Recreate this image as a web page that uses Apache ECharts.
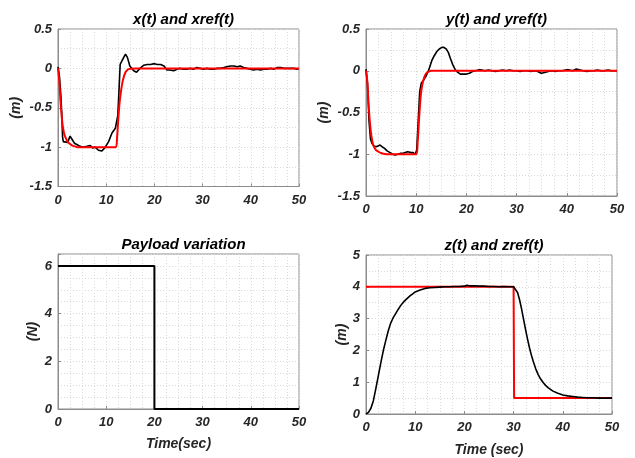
<!DOCTYPE html>
<html>
<head>
<meta charset="utf-8">
<script src="https://cdn.jsdelivr.net/npm/echarts@6/dist/echarts.min.js"></script>
<style>html,body{margin:0;padding:0;background:#fff}#c{width:635px;height:458px}</style>
</head>
<body>
<div id="c"></div>
<script>
// ---- data ----
const titles = ['x(t) and xref(t)', 'y(t) and yref(t)', 'Payload variation', 'z(t) and zref(t)'];
const xTicks = [0, 10, 20, 30, 40, 50];

const xT = [0,0.3,0.6,0.8,0.95,1.1,1.5,2.0,2.5,2.9,3.4,4.0,4.6,5.2,6.0,6.7,7.2,7.7,8.4,9.1,9.7,10.5,11.2,11.9,12.2,12.4,12.6,12.9,13.3,13.7,14.0,14.4,14.9,15.7,16.3,17.0,17.8,18.5,19.2,20.0,20.6,21.3,22.0,22.6,23.2,24.0,24.7,25.3,26.0,26.7,27.4,28.1,28.8,29.5,30.2,30.9,31.6,32.3,33.0,33.7,34.4,35.0,35.8,36.5,37.2,37.8,38.5,39.2,39.9,40.6,41.3,42.0,42.7,43.4,44.1,44.8,45.5,46.2,46.9,47.6,48.3,49.0,49.6,50];
const xVal = [0.02,-0.1,-0.35,-0.6,-0.87,-0.93,-0.95,-0.94,-0.86,-0.9,-0.95,-0.97,-0.99,-1.0,-0.99,-0.98,-1.01,-1.0,-1.04,-1.05,-1.01,-0.93,-0.82,-0.76,-0.74,-0.6,-0.35,0.05,0.1,0.12,0.18,0.14,0.03,-0.03,-0.05,0.0,0.04,0.05,0.05,0.06,0.05,0.05,0.03,-0.02,-0.02,-0.03,-0.01,0.0,-0.01,-0.01,0.0,-0.01,0.01,0.0,-0.01,0.0,-0.01,-0.01,0.0,0.0,0.01,0.02,0.03,0.03,0.02,0.03,0.01,0.0,-0.01,-0.02,-0.01,-0.02,-0.01,-0.01,0.0,-0.01,0.01,0.01,0.0,0.0,0.0,0.0,-0.01,0.0];
const xrefT = [0,0.25,0.5,0.75,1,1.25,1.5,2,2.5,3,3.5,4,12,12.25,12.5,12.75,13,13.25,13.5,14,14.5,15,16,50];
const xrefVal = [0,-0.15,-0.4,-0.6,-0.74,-0.82,-0.87,-0.93,-0.96,-0.98,-0.99,-1,-1,-0.88,-0.65,-0.45,-0.32,-0.22,-0.14,-0.05,-0.015,-0.005,0,0];

const yT = [0,0.3,0.6,0.9,1.2,1.6,2.0,2.4,2.8,3.2,3.7,4.2,4.8,5.3,5.8,6.3,6.8,7.3,7.8,8.3,8.6,9.0,9.4,9.8,10.1,10.4,10.7,11.0,11.5,12.0,12.5,13.1,13.6,14.1,14.6,15.1,15.5,16.0,16.4,16.8,17.3,17.8,18.3,18.8,19.4,20.0,20.6,21.2,21.8,22.4,23.0,23.7,24.4,25.1,25.8,26.5,27.2,27.9,28.6,29.3,30.0,30.7,31.4,32.1,32.8,33.5,34.2,34.9,35.6,36.3,37.0,37.7,38.4,39.1,39.8,40.5,41.2,41.9,42.6,43.3,44.0,44.7,45.4,46.1,46.8,47.5,48.2,48.9,49.5,50];
const yVal = [0.02,-0.15,-0.6,-0.82,-0.87,-0.9,-0.91,-0.9,-0.89,-0.91,-0.93,-0.96,-0.98,-1.0,-1.01,-1.0,-0.99,-0.99,-0.98,-0.97,-0.95,-0.98,-0.98,-1.0,-0.95,-0.6,-0.25,-0.15,-0.11,-0.06,0.01,0.12,0.18,0.23,0.26,0.28,0.28,0.26,0.22,0.15,0.07,0.01,-0.02,-0.04,-0.04,-0.04,-0.03,-0.01,0.0,0.01,0.01,0.0,0.01,0.0,-0.01,0.0,0.01,0.0,0.01,0.0,0.0,-0.01,0.0,0.0,-0.01,0.0,-0.01,-0.03,-0.02,-0.01,0.0,-0.01,0.0,0.0,0.01,0.01,0.0,0.02,0.01,0.0,-0.01,0.0,0.0,0.01,0.0,0.0,0.01,0.0,0.0,0.0];
const yrefT = [0,0.25,0.5,0.75,1,1.25,1.5,2,2.5,3,3.5,4,10,10.3,10.6,10.9,11.2,11.6,12.0,12.5,13,50];
const yrefVal = [0,-0.12,-0.38,-0.6,-0.75,-0.84,-0.9,-0.95,-0.97,-0.985,-0.995,-1,-1,-0.85,-0.55,-0.3,-0.17,-0.08,-0.03,-0.01,0,0];

const payT = [0, 20, 20, 50];
const payVal = [6, 6, 0, 0];

const zT = [0,0.5,1,1.5,2,2.5,3,3.5,4,4.5,5,5.5,6,6.5,7,7.5,8,8.5,9,9.5,10,11,12,13,14,15,16,17,18,19,20,20.5,21,22,23,24,25,26,27,28,29,30,30.4,30.8,31.2,31.6,32,32.4,32.8,33.2,33.6,34,34.5,35,35.5,36,36.5,37,38,39,40,41,42,43,44,45,46,47,48,49,50];
const zVal = [0,0.05,0.18,0.42,0.8,1.2,1.6,1.98,2.3,2.6,2.85,3.02,3.15,3.28,3.4,3.5,3.58,3.65,3.72,3.78,3.84,3.9,3.95,3.97,3.98,3.99,4.0,4.0,4.01,4.01,4.02,4.05,4.03,4.03,4.02,4.02,4.01,4.01,4.0,4.01,4.0,4.0,3.95,3.82,3.6,3.32,3.0,2.68,2.38,2.1,1.86,1.65,1.42,1.24,1.1,0.99,0.9,0.83,0.72,0.65,0.6,0.57,0.55,0.53,0.52,0.51,0.51,0.5,0.5,0.5,0.5];
const zrefT = [0, 30, 30.1, 50];
const zrefVal = [4, 4, 0.5, 0.5];

// ---- chart ----
const pairs = (t, v) => t.map((x, i) => [x, v[i]]);
const txt = '#262626';
const font = 'Liberation Sans, Arial, sans-serif';

const grids = [
  {left: 58, top: 29, width: 241, height: 157.5},
  {left: 366, top: 29, width: 251, height: 167},
  {left: 58, top: 254, width: 241, height: 155},
  {left: 366, top: 255, width: 246, height: 159.5}
];
const yCfg = [
  {min: -1.5, max: 0.5, interval: 0.5, split: 2, name: '(m)', gap: 35},
  {min: -1.5, max: 0.5, interval: 0.5, split: 2, name: '(m)', gap: 35},
  {min: 0, max: 6.5, interval: 2, split: 4, name: '(N)', gap: 18},
  {min: 0, max: 5, interval: 1, split: 2, name: '(m)', gap: 16}
];
const xNames = ['', '', 'Time(sec)', 'Time (sec)'];
const xGaps = [30, 30, 28, 29];

const dotted = {color: '#d9d9d9', type: [1, 2], width: 1};
const labelStyle = {color: txt, fontFamily: font, fontWeight: 'bold', fontStyle: 'italic', fontSize: 13};
const nameStyle = {color: txt, fontFamily: font, fontWeight: 'bold', fontStyle: 'italic', fontSize: 14};

const option = {
  animation: false,
  backgroundColor: '#fff',
  title: grids.map((g, i) => ({
    text: titles[i],
    left: g.left + g.width / 2,
    top: g.top - 22,
    textAlign: 'center',
    textStyle: {color: '#000', fontFamily: font, fontWeight: 'bold', fontStyle: 'italic', fontSize: 15}
  })),
  grid: grids.map(g => Object.assign({show: true, borderColor: '#8c8c8c', borderWidth: 1, backgroundColor: '#fff'}, g)),
  xAxis: grids.map((g, i) => ({
    type: 'value', gridIndex: i, min: 0, max: 50, interval: 10,
    name: xNames[i], nameLocation: 'middle', nameGap: xGaps[i], nameTextStyle: nameStyle,
    axisLine: {show: true, onZero: false, lineStyle: {color: '#8c8c8c'}},
    axisTick: {show: true, inside: true, length: 3, lineStyle: {color: '#8c8c8c'}},
    minorTick: {show: true, splitNumber: 4, length: 0},
    splitLine: {show: true, lineStyle: dotted},
    minorSplitLine: {show: true, lineStyle: dotted},
    axisLabel: Object.assign({margin: 7, formatter: v => xTicks.includes(v) ? String(v) : ''}, labelStyle)
  })),
  yAxis: yCfg.map((c, i) => ({
    type: 'value', gridIndex: i, min: c.min, max: c.max, interval: c.interval,
    name: c.name, nameLocation: 'middle', nameGap: c.gap, nameRotate: 90, nameTextStyle: nameStyle,
    axisLine: {show: true, onZero: false, lineStyle: {color: '#8c8c8c'}},
    axisTick: {show: true, inside: true, length: 3, lineStyle: {color: '#8c8c8c'}},
    minorTick: {show: true, splitNumber: c.split, length: 0},
    splitLine: {show: true, lineStyle: dotted},
    minorSplitLine: {show: true, lineStyle: dotted},
    axisLabel: Object.assign({margin: 6, showMaxLabel: i !== 2}, labelStyle)
  })),
  series: [
    {type: 'line', xAxisIndex: 0, yAxisIndex: 0, data: pairs(xT, xVal), showSymbol: false, lineStyle: {color: '#000', width: 1.6}, z: 2},
    {type: 'line', xAxisIndex: 0, yAxisIndex: 0, data: pairs(xrefT, xrefVal), showSymbol: false, smooth: 0.3, lineStyle: {color: '#ff0000', width: 2}, z: 3},
    {type: 'line', xAxisIndex: 1, yAxisIndex: 1, data: pairs(yT, yVal), showSymbol: false, lineStyle: {color: '#000', width: 1.6}, z: 2},
    {type: 'line', xAxisIndex: 1, yAxisIndex: 1, data: pairs(yrefT, yrefVal), showSymbol: false, smooth: 0.3, lineStyle: {color: '#ff0000', width: 2}, z: 3},
    {type: 'line', xAxisIndex: 2, yAxisIndex: 2, data: pairs(payT, payVal), showSymbol: false, lineStyle: {color: '#000', width: 2}, z: 2},
    {type: 'line', xAxisIndex: 3, yAxisIndex: 3, data: pairs(zT, zVal), showSymbol: false, lineStyle: {color: '#000', width: 1.6}, z: 3},
    {type: 'line', xAxisIndex: 3, yAxisIndex: 3, data: pairs(zrefT, zrefVal), showSymbol: false, lineStyle: {color: '#ff0000', width: 2}, z: 2}
  ]
};
const chart = echarts.init(document.getElementById('c'), null, {renderer: 'canvas'});
chart.setOption(option);
</script>
</body>
</html>
